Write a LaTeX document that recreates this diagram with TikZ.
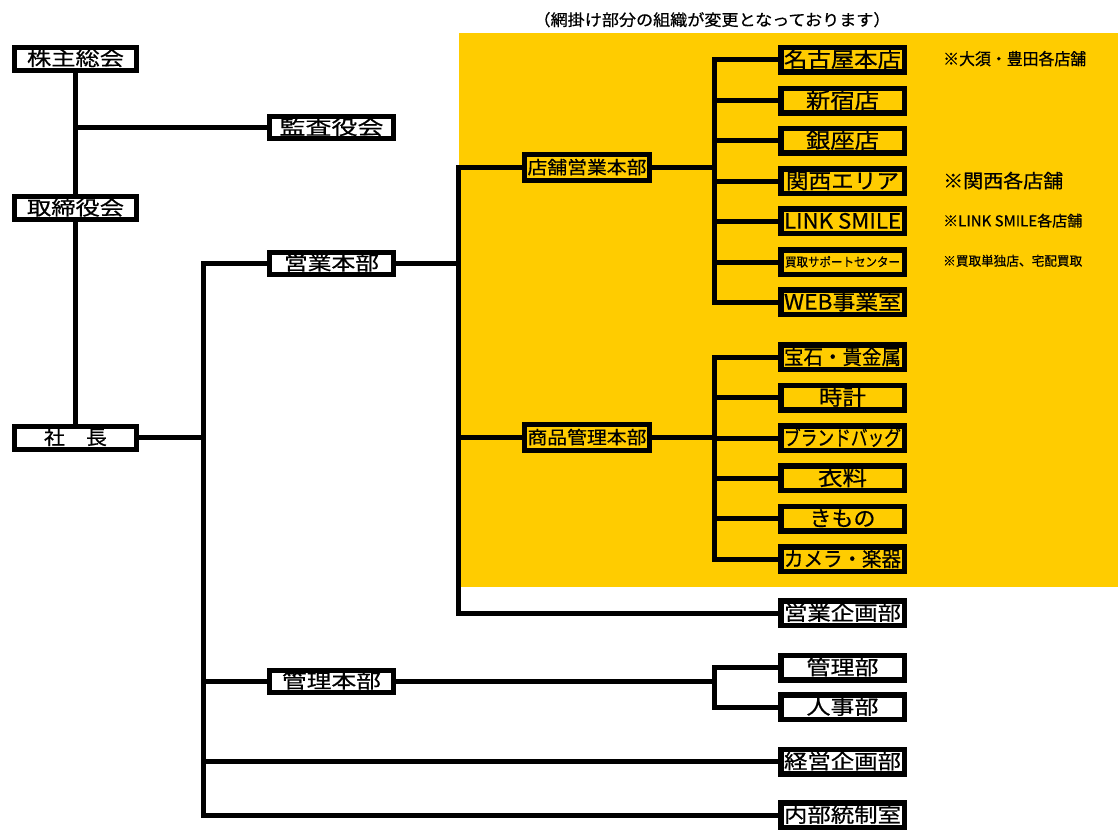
\documentclass[tikz,border=0pt]{standalone}
\usepackage{fontspec}
\setmainfont[FakeBold=0.6]{Noto Sans CJK JP}
\usepackage{graphicx}
\definecolor{mesh}{HTML}{FFCC00}
\newcommand\bt[3]{{\fontsize{#1}{#1}\selectfont\raisebox{-0.36em}[0pt][0pt]{\resizebox{#2pt}{\height}{#3}}}}
\tikzset{
  box/.style={draw, line width=5.5pt, inner sep=0pt, minimum width=123.5pt, minimum height=24.5pt},
  lbox/.style={box, line width=5pt, minimum width=122pt, minimum height=23pt},
  mbox/.style={box, line width=5pt, minimum width=124pt, minimum height=22pt},
  hbox/.style={box, line width=5pt, minimum width=125pt, minimum height=26pt},
  conn/.style={line width=5pt, line join=miter},
  note/.style={anchor=west, inner sep=0pt}
}
\begin{document}
\begin{tikzpicture}[x=1pt,y=-1pt]
\useasboundingbox (0,0) rectangle (1118,830);
\fill[mesh] (459,33) rectangle (1118,587);
\node[inner sep=0pt] (title) at (712,20) {\bt{16}{357}{（網掛け部分の組織が変更となっております）}};

% left column
\node[lbox] (kabu) at (75.5,58.5) {\bt{19.5}{97}{株主総会}};
\node[mbox] (kansa) at (331.5,127.5) {\bt{19.5}{104}{監査役会}};
\node[lbox] (tori) at (75.5,208) {\bt{19.5}{97}{取締役会}};
\node[lbox] (sha) at (75.5,437.5) {\bt{19.5}{63}{社　長}};
\node[mbox] (eigyo) at (331.5,263) {\bt{19.5}{95}{営業本部}};
\node[mbox] (kanri) at (331.5,681) {\bt{19.5}{99}{管理本部}};

% middle
\node[hbox] (tenpo) at (587,167.5) {\bt{18}{119}{店舗営業本部}};
\node[hbox] (shohin) at (587,437.5) {\bt{18}{119}{商品管理本部}};

% store boxes
\node[box] (nagoya) at (842.5,59.5) {\bt{21}{117}{名古屋本店}};
\node[box] (shinjuku) at (842.5,100.5) {\bt{21}{73}{新宿店}};
\node[box] (ginza) at (842.5,140.5) {\bt{21}{73}{銀座店}};
\node[box] (kansai) at (842.5,181) {\bt{21}{113}{関西エリア}};
\node[box] (link) at (842.5,221) {\bt{21}{117}{LINK SMILE}};
\node[box] (kaitori) at (842.5,262) {\bt{12.5}{115}{買取サポートセンター}};
\node[box] (web) at (842.5,302) {\bt{21}{117}{WEB事業室}};

% product boxes
\node[box] (hoseki) at (842.5,357) {\bt{20.5}{117}{宝石・貴金属}};
\node[box] (tokei) at (842.5,397.5) {\bt{21}{47}{時計}};
\node[box] (brand) at (842.5,438) {\bt{20.5}{117}{ブランドバッグ}};
\node[box] (iryo) at (842.5,478) {\bt{21}{49}{衣料}};
\node[box] (kimono) at (842.5,518.5) {\bt{21}{66}{きもの}};
\node[box] (camera) at (842.5,559) {\bt{20.5}{117}{カメラ・楽器}};

% white right boxes
\node[box] (eikikaku) at (842.5,613) {\bt{20}{117}{営業企画部}};
\node[box] (kanribu) at (842.5,667.5) {\bt{20}{72}{管理部}};
\node[box] (jinji) at (842.5,707) {\bt{20}{72}{人事部}};
\node[box] (keiei) at (842.5,761.5) {\bt{20}{117}{経営企画部}};
\node[box] (naibu) at (842.5,815) {\bt{20}{117}{内部統制室}};

% notes
\node[note] (n1) at (943,59) {\bt{16.5}{143}{※大須・豊田各店舗}};
\node[note] (n2) at (943,181) {\bt{19}{120}{※関西各店舗}};
\node[note] (n3) at (943,221) {\bt{15}{139}{※LINK SMILE各店舗}};
\node[note] (n4) at (943,261) {\bt{13}{139}{※買取単独店、宅配買取}};

% bus coordinates
\coordinate (b1) at (203,437.5);
\coordinate (b2) at (458,263);
\coordinate (b3) at (714,167.5);
\coordinate (b4) at (714,681);

% connectors
\draw[conn] (kabu.south) -- (tori.north);
\draw[conn] (tori.south) -- (sha.north);
\draw[conn] (kansa.west) -- (kansa.west -| kabu.south);
\draw[conn] (sha.east) -- (b1);
\draw[conn] (eigyo.west) -- (eigyo.west -| b1) -- (naibu.west -| b1) -- (naibu.west);
\draw[conn] (kanri.west) -- (kanri.west -| b1);
\draw[conn] (keiei.west) -- (keiei.west -| b1);
\draw[conn] (eigyo.east) -- (b2);
\draw[conn] (tenpo.west) -- (tenpo.west -| b2) -- (eikikaku.west -| b2) -- (eikikaku.west);
\draw[conn] (shohin.west) -- (shohin.west -| b2);
\draw[conn] (tenpo.east) -- (b3);
\draw[conn] (nagoya.west) -- (nagoya.west -| b3) -- (web.west -| b3) -- (web.west);
\foreach \n in {shinjuku,ginza,kansai,link,kaitori}
  \draw[conn] (\n.west) -- (\n.west -| b3);
\draw[conn] (shohin.east) -- (shohin.east -| b3);
\draw[conn] (hoseki.west) -- (hoseki.west -| b3) -- (camera.west -| b3) -- (camera.west);
\foreach \n in {tokei,brand,iryo,kimono}
  \draw[conn] (\n.west) -- (\n.west -| b3);
\draw[conn] (kanri.east) -- (b4);
\draw[conn] (kanribu.west) -- (kanribu.west -| b4) -- (jinji.west -| b4) -- (jinji.west);
\end{tikzpicture}
\end{document}
